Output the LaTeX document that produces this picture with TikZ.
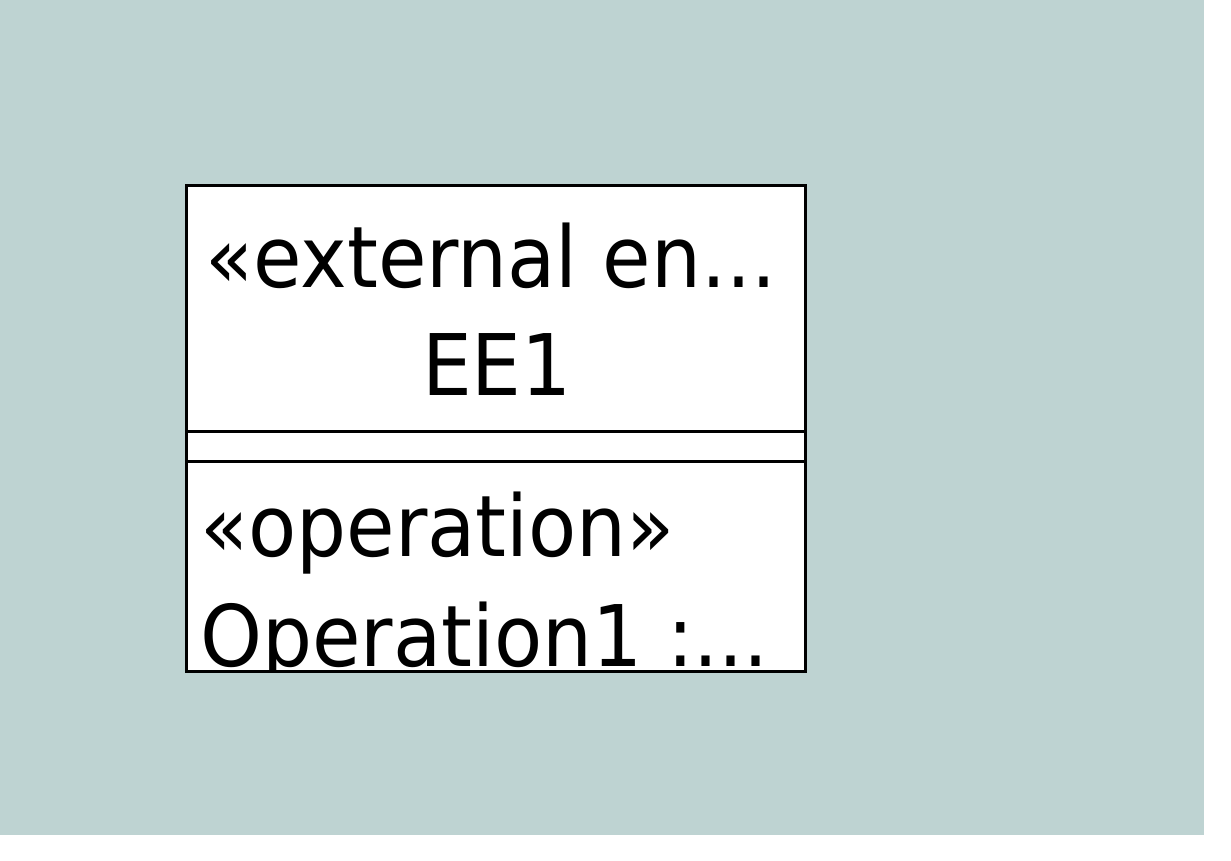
\documentclass[tikz,border=0pt]{standalone}
\usepackage{fontspec}
\setmainfont[FakeStretch=1.03]{DejaVu Sans Condensed}
\definecolor{bgteal}{RGB}{190,211,210}
\begin{document}
\begin{tikzpicture}[x=1pt,y=-1pt,
  umltext/.style={inner sep=0pt,font=\fontsize{85}{100}\selectfont,text=black},
  boxline/.style={draw=black,line width=3pt}]
\useasboundingbox (0,0) rectangle (1231,861);
\fill[white] (0,0) rectangle (1231,861);
\fill[bgteal] (0,0) rectangle (1204,835);
\coordinate (tl) at (186,186);
\coordinate (br) at (805,671);
\fill[white] (tl) rectangle (br);
\begin{scope}
\clip (tl) rectangle (br);
\node[umltext,anchor=base] (st) at (491,287) {«external en...};
\node[umltext,anchor=base] (nm) at (497,395) {EE1};
\node[umltext,anchor=base west] (op) at (200,556) {«operation»};
\node[umltext,anchor=base west] (opn) at (200,666) {Operation1 :...};
\end{scope}
\draw[boxline] (tl) rectangle (br);
\draw[boxline] (186,431) -- (805,431);
\draw[boxline] (186,461) -- (805,461);
\end{tikzpicture}
\end{document}
